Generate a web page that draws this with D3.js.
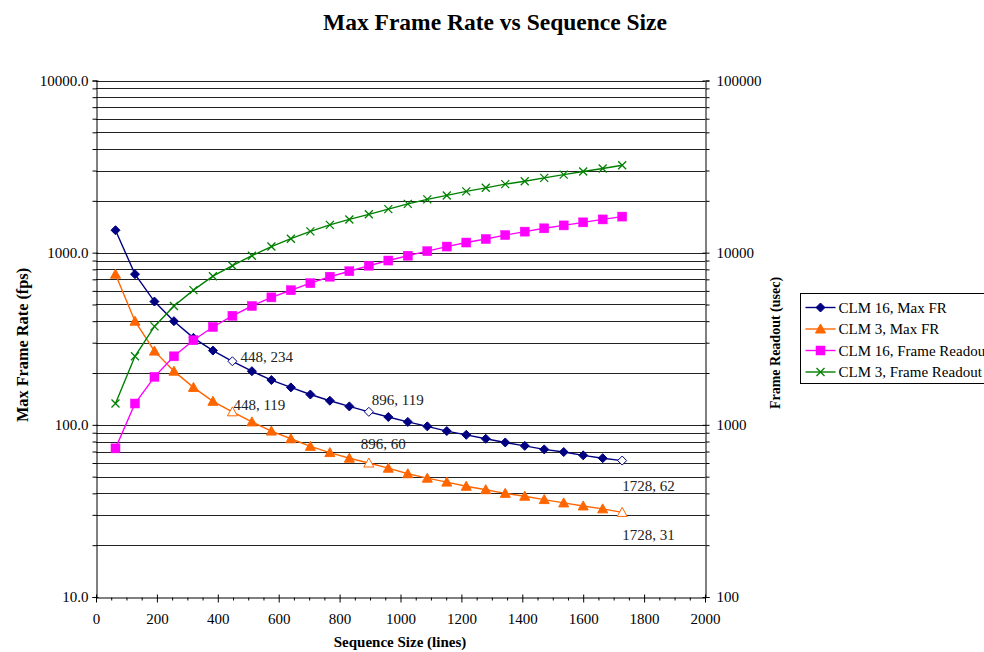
<!DOCTYPE html>
<html>
<head>
<meta charset="utf-8">
<script src="https://cdn.jsdelivr.net/npm/d3@7"></script>
<style>
  body { margin: 0; background: #fff; }
  svg text { font-family: "Liberation Serif", "DejaVu Serif", serif; }
</style>
</head>
<body>
<div id="chart"></div>
<script>
// sequence sizes (lines)
const seqSize = [64, 128, 192, 256, 320, 384, 448, 512, 576, 640, 704, 768, 832, 896,
  960, 1024, 1088, 1152, 1216, 1280, 1344, 1408, 1472, 1536, 1600, 1664, 1728];

// max frame rate (fps), left axis
const clm16MaxFR = [1350, 750, 520, 400, 320, 270, 234, 205, 182, 165, 150, 138, 128, 119,
  111, 104, 98, 92, 87.5, 83, 79, 75.5, 72, 69.5, 66.5, 64, 62];
const clm3MaxFR = [750, 400, 268, 205, 165, 137, 119, 104, 92, 83, 75, 69, 64, 60,
  56, 52, 49, 46.5, 44, 42, 40, 38.5, 36.8, 35.2, 33.8, 32.5, 31];

// frame readout (usec), right axis
const clm16Readout = [730, 1330, 1900, 2500, 3100, 3700, 4300, 4900, 5500, 6050, 6650, 7250, 7800, 8400,
  9000, 9600, 10200, 10850, 11450, 12000, 12650, 13250, 13850, 14400, 15000, 15600, 16200];
const clm3Readout = [1330, 2500, 3730, 4900, 6060, 7300, 8400, 9600, 10850, 12050, 13300, 14500, 15600, 16700,
  17900, 19200, 20400, 21500, 22700, 23800, 25000, 26000, 27200, 28400, 29600, 30800, 32200];

// points that carry a data label (hollow marker)
const labeledSizes = [448, 896, 1728];

const xTicks = [0, 200, 400, 600, 800, 1000, 1200, 1400, 1600, 1800, 2000];
const leftMajor = [10, 100, 1000, 10000];
const rightMajor = [100, 1000, 10000, 100000];

const series = [
  { name: 'CLM 16, Max FR', values: clm16MaxFR, axis: 'left', color: '#000080', marker: 'diamond', labels: true },
  { name: 'CLM 3, Max FR', values: clm3MaxFR, axis: 'left', color: '#FF6600', marker: 'triangle', labels: true },
  { name: 'CLM 16, Frame Readout', values: clm16Readout, axis: 'right', color: '#FF00FF', marker: 'square', labels: false },
  { name: 'CLM 3, Frame Readout', values: clm3Readout, axis: 'right', color: '#008000', marker: 'cross', labels: false }
];

const width = 984, height = 652;
const plot = { left: 96, right: 705, top: 80.5, bottom: 597 };

const svg = d3.select('#chart').append('svg')
  .attr('width', width)
  .attr('height', height);

const x = d3.scaleLinear().domain([0, 2000]).range([plot.left, plot.right]);
const yLeft = d3.scaleLog().domain([10, 10000]).range([plot.bottom, plot.top]);
const yRight = d3.scaleLog().domain([100, 100000]).range([plot.bottom, plot.top]);

// horizontal grid lines at every log step
const gridVals = yLeft.ticks().filter(v => v > 10);
svg.append('g').attr('class', 'grid')
  .selectAll('line').data(gridVals).enter().append('line')
  .attr('x1', plot.left).attr('x2', plot.right)
  .attr('y1', d => Math.round(yLeft(d)) + 0.5)
  .attr('y2', d => Math.round(yLeft(d)) + 0.5)
  .attr('stroke', '#222')
  .attr('stroke-width', 1);

// left axis
const leftAxis = svg.append('g')
  .attr('transform', `translate(${plot.left + 0.5},0)`)
  .call(d3.axisLeft(yLeft).tickValues(yLeft.ticks()).tickSize(4)
    .tickFormat(d => leftMajor.includes(d) ? d3.format('.1f')(d) : ''));
leftAxis.select('.domain').attr('stroke', '#000');
leftAxis.selectAll('.tick line').attr('stroke', '#000')
  .attr('x1', d => leftMajor.includes(d) ? 2 : 0);
leftAxis.selectAll('.tick text')
  .attr('x', -8)
  .style('font-size', '15px')
  .attr('fill', '#000');

// right axis
const rightAxis = svg.append('g')
  .attr('transform', `translate(${plot.right + 0.5},0)`)
  .call(d3.axisRight(yRight).tickValues(yRight.ticks()).tickSize(4)
    .tickFormat(d => rightMajor.includes(d) ? d3.format('d')(d) : ''));
rightAxis.select('.domain').attr('stroke', '#000');
rightAxis.selectAll('.tick line').attr('stroke', '#000')
  .attr('x1', d => rightMajor.includes(d) ? -3 : 0);
rightAxis.selectAll('.tick text')
  .attr('x', 11)
  .style('font-size', '15px')
  .attr('fill', '#000');

// x axis, minor ticks every 50
const xMinor = d3.range(0, 2001, 50);
const xAxisG = svg.append('g')
  .attr('transform', `translate(0,${plot.bottom + 0.5})`)
  .call(d3.axisBottom(x).tickValues(xMinor).tickSize(3)
    .tickFormat(d => xTicks.includes(d) ? d : ''));
xAxisG.select('.domain').attr('stroke', '#000');
xAxisG.selectAll('.tick line').attr('stroke', '#000')
  .attr('y1', d => xTicks.includes(d) ? -3 : 0)
  .attr('y2', d => xTicks.includes(d) ? 5 : 3);
xAxisG.selectAll('.tick text')
  .attr('y', 16)
  .style('font-size', '15px')
  .attr('fill', '#000');

// markers
function drawMarker(g, type, color, hollow) {
  const fill = hollow ? '#fff' : color;
  if (type === 'diamond') {
    g.append('path').attr('d', 'M0,-4.5L4.5,0L0,4.5L-4.5,0Z')
      .attr('fill', fill).attr('stroke', color).attr('stroke-width', 1);
  } else if (type === 'triangle') {
    g.append('path').attr('d', 'M0,-5L5,4L-5,4Z')
      .attr('fill', fill).attr('stroke', color).attr('stroke-width', 1);
  } else if (type === 'square') {
    g.append('rect').attr('x', -4.5).attr('y', -4.5).attr('width', 9).attr('height', 9)
      .attr('fill', fill).attr('stroke', color).attr('stroke-width', 0.5);
  } else {
    g.append('path').attr('d', 'M-4,-4L4,4M-4,4L4,-4')
      .attr('fill', 'none').attr('stroke', color).attr('stroke-width', 1.3);
  }
}

series.forEach(s => {
  const y = s.axis === 'left' ? yLeft : yRight;
  const pts = seqSize.map((v, i) => ({ x: v, y: s.values[i] }));
  const line = d3.line().x(d => x(d.x)).y(d => y(d.y));
  const g = svg.append('g');
  g.append('path').datum(pts)
    .attr('fill', 'none')
    .attr('stroke', s.color)
    .attr('stroke-width', 1.4)
    .attr('d', line);
  pts.forEach(p => {
    const hollow = s.labels && labeledSizes.includes(p.x);
    const m = g.append('g').attr('transform', `translate(${x(p.x)},${y(p.y)})`);
    drawMarker(m, s.marker, s.color, hollow);
  });
});

// data labels: offsets of the text from its point
const labelOffsets = {
  '448-16': [8, 1], '448-3': [1, -1.5],
  '896-16': [3, -6.5], '896-3': [-8, -14],
  '1728-16': [0, 30], '1728-3': [0, 28]
};
const labelData = [];
labeledSizes.forEach(sz => {
  const i = seqSize.indexOf(sz);
  labelData.push({ x: sz, y: clm16MaxFR[i], off: labelOffsets[sz + '-16'] });
  labelData.push({ x: sz, y: clm3MaxFR[i], off: labelOffsets[sz + '-3'] });
});
svg.append('g').selectAll('text').data(labelData).enter().append('text')
  .attr('x', d => x(d.x) + d.off[0])
  .attr('y', d => yLeft(d.y) + d.off[1])
  .style('font-size', '15px')
  .attr('fill', '#222')
  .text(d => `${d.x}, ${Math.round(d.y)}`);

// title and axis titles
svg.append('text')
  .attr('x', 495).attr('y', 30)
  .attr('text-anchor', 'middle')
  .style('font-size', '23.5px').style('font-weight', 'bold')
  .text('Max Frame Rate vs Sequence Size');

svg.append('text')
  .attr('x', 400).attr('y', 647)
  .attr('text-anchor', 'middle')
  .style('font-size', '15px').style('font-weight', 'bold')
  .text('Sequence Size (lines)');

svg.append('text')
  .attr('transform', 'translate(28,345) rotate(-90)')
  .attr('text-anchor', 'middle')
  .style('font-size', '16.3px').style('font-weight', 'bold')
  .text('Max Frame Rate (fps)');

svg.append('text')
  .attr('transform', 'translate(780,343) rotate(-90)')
  .attr('text-anchor', 'middle')
  .style('font-size', '14px').style('font-weight', 'bold')
  .text('Frame Readout (usec)');

// legend
const legend = svg.append('g').attr('transform', 'translate(800.5,293.5)');
legend.append('rect')
  .attr('width', 200).attr('height', 90)
  .attr('fill', '#fff').attr('stroke', '#000').attr('stroke-width', 1);
series.forEach((s, i) => {
  const row = legend.append('g').attr('transform', `translate(0,${14 + i * 21.5})`);
  row.append('line').attr('x1', 5).attr('x2', 35).attr('y1', 0).attr('y2', 0)
    .attr('stroke', s.color).attr('stroke-width', 1.4);
  const m = row.append('g').attr('transform', 'translate(20,0)');
  drawMarker(m, s.marker, s.color, false);
  row.append('text').attr('x', 38).attr('y', 5)
    .style('font-size', '15px')
    .text(s.name);
});
</script>
</body>
</html>
